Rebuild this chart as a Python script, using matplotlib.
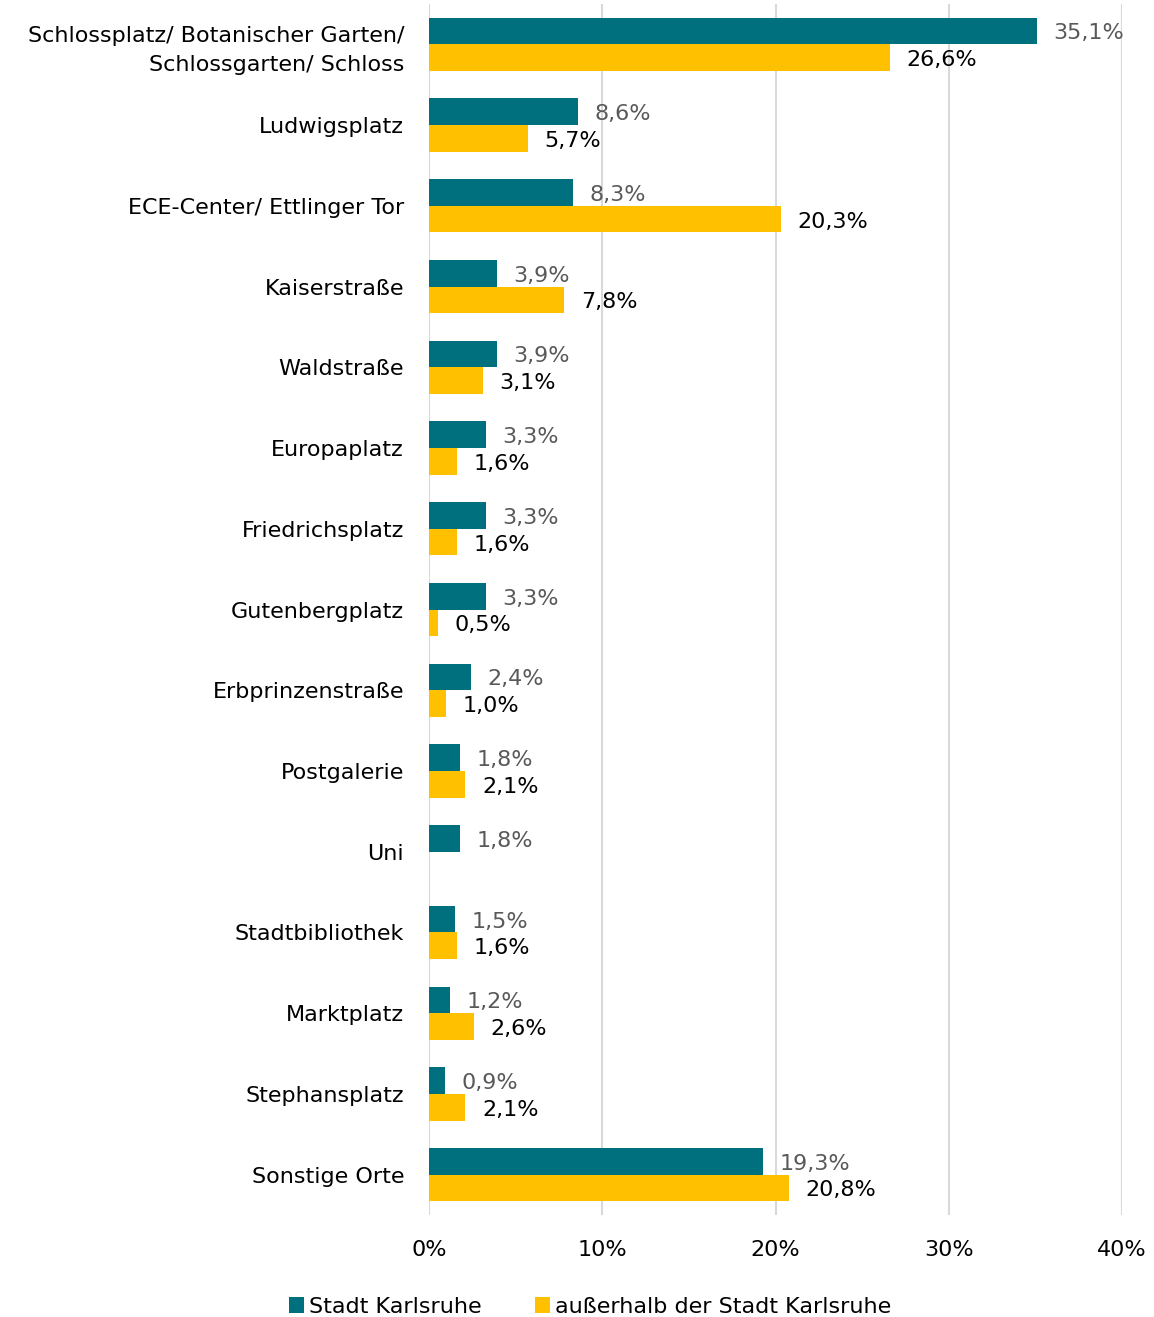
import numpy as np
import matplotlib
matplotlib.use("Agg")
from matplotlib import pyplot as plt

# Orte und Anteile (in %)
orte = ["Schlossplatz/ Botanischer Garten/\nSchlossgarten/ Schloss", "Ludwigsplatz",
        "ECE-Center/ Ettlinger Tor", "Kaiserstraße", "Waldstraße", "Europaplatz",
        "Friedrichsplatz", "Gutenbergplatz", "Erbprinzenstraße", "Postgalerie", "Uni",
        "Stadtbibliothek", "Marktplatz", "Stephansplatz", "Sonstige Orte"]
stadt_ka = [35.1, 8.6, 8.3, 3.9, 3.9, 3.3, 3.3, 3.3, 2.4, 1.8, 1.8, 1.5, 1.2, 0.9, 19.3]
ausserhalb = [26.6, 5.7, 20.3, 7.8, 3.1, 1.6, 1.6, 0.5, 1.0, 2.1, None, 1.6, 2.6, 2.1, 20.8]
xticks = [0, 10, 20, 30, 40]

teal = "#00707F"
gelb = "#FFC000"

plt.rcParams['font.family'] = ["DejaVu Sans"]
fs = 16

fig = plt.figure(figsize=(11.54, 13.17), dpi=100)
ax = fig.add_axes([0.3718, 0.0774, 0.6005, 0.9196])

y = np.arange(len(orte))
h = 0.33
ax.barh(y - h / 2, stadt_ka, height=h, color=teal, label="Stadt Karlsruhe", zorder=3)
aus_vals = [v if v is not None else 0 for v in ausserhalb]
ax.barh(y + h / 2, aus_vals, height=h, color=gelb, label="außerhalb der Stadt Karlsruhe", zorder=3)

for i, (a, b) in enumerate(zip(stadt_ka, ausserhalb)):
    ax.text(a + 0.95, i - h / 2 + 0.03, f"{a:.1f}%".replace(".", ","), va="center", ha="left",
            fontsize=fs, color="#595959")
    if b is not None:
        ax.text(b + 0.95, i + h / 2 + 0.03, f"{b:.1f}%".replace(".", ","), va="center", ha="left",
                fontsize=fs, color="black")

ax.set_ylim(len(orte) - 0.5, -0.5)
ax.set_xlim(0, 40)
ax.set_yticks(y)
ax.set_yticklabels(orte, fontsize=fs, color="black", multialignment="right")
for lbl in ax.get_yticklabels():
    lbl.set_linespacing(1.55)
ax.set_xticks(xticks)
ax.set_xticklabels([f"{t}%" for t in xticks], fontsize=fs)
ax.tick_params(axis="both", length=0)
ax.tick_params(axis="y", pad=18)
ax.tick_params(axis="x", pad=18)
ax.grid(axis="x", color="#D9D9D9", linewidth=1.5, zorder=0)
for s in ax.spines.values():
    s.set_visible(False)

fig.legend(loc="lower center", bbox_to_anchor=(0.511, -0.015), ncol=2, frameon=False,
           fontsize=fs, handlelength=0.7, handleheight=0.7, handletextpad=0.2,
           columnspacing=2.4)

fig.savefig("out.png", dpi=100)
